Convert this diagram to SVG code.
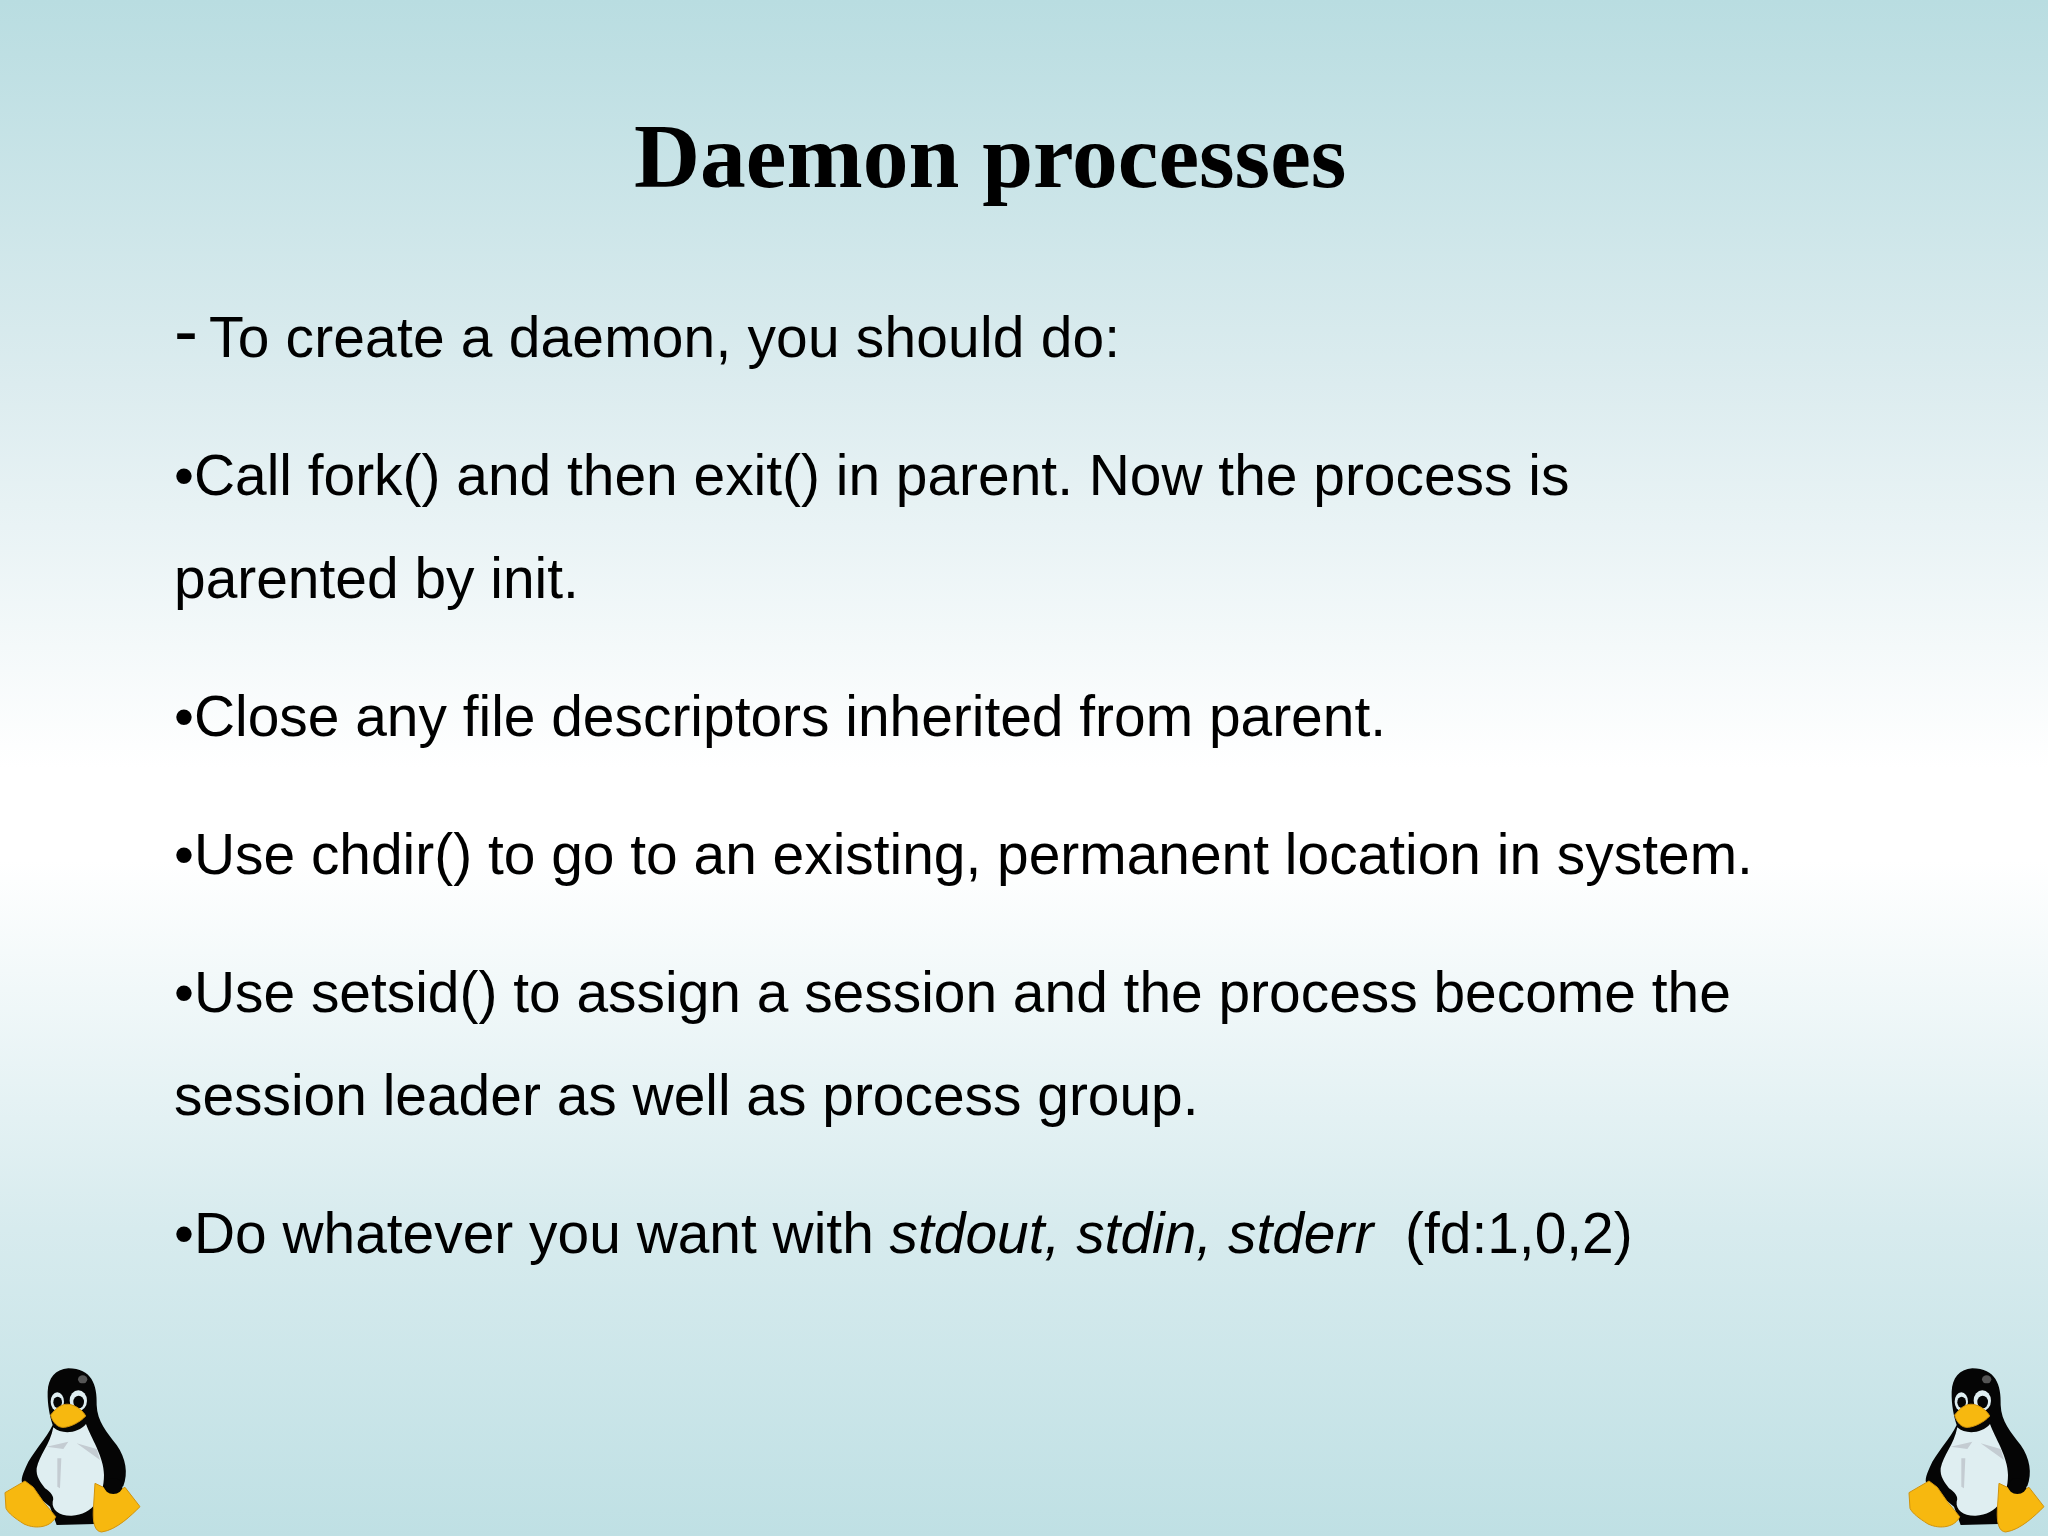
<svg xmlns="http://www.w3.org/2000/svg" width="2048" height="1536" viewBox="0 0 2048 1536">
<style>
.t{font-family:"Liberation Serif",serif;font-weight:700;font-size:91.5px;fill:#000}
.b{font-family:"Liberation Sans",sans-serif;font-size:56.9px;fill:#000}
.k{fill:#050505}.y{fill:#f7b80f;stroke:#d1930c;stroke-width:3;stroke-linejoin:round}.w{fill:#dfeef1}.s{fill:#c4ccd2}
</style>
<defs>
<linearGradient id="bg" x1="0" y1="0" x2="0" y2="1">
<stop offset="0" stop-color="#b9dde1"/><stop offset=".25" stop-color="#dcecef"/><stop offset=".5" stop-color="#ffffff"/><stop offset=".56" stop-color="#ffffff"/><stop offset=".8" stop-color="#d7ebee"/><stop offset="1" stop-color="#bfe0e4"/>
</linearGradient>
<g id="tux">
<path class="k" d="M205 55C165 58 145 85 143 125C142 165 150 200 158 225C140 265 95 310 78 350C65 380 60 395 72 405L150 470L170 525L285 522L315 435L370 408C385 370 378 325 350 285C320 245 292 215 290 165C292 105 275 55 205 55Z"/>
<path class="w" d="M160 232C185 255 235 250 258 222C272 262 312 320 312 375C312 440 280 495 215 497C178 498 155 480 158 455C165 440 150 425 135 415C120 395 108 380 110 355C118 315 150 285 160 232Z"/>
<path class="s" d="M140 290L205 275L190 297ZM230 280L290 297L300 330ZM172 325L184 325L180 415L172 410Z"/>
<ellipse class="w" cx="172" cy="155" rx="20" ry="28"/><ellipse class="w" cx="235" cy="152" rx="26" ry="31"/>
<ellipse class="k" cx="173" cy="157" rx="13" ry="17"/><ellipse class="k" cx="236" cy="156" rx="16" ry="19"/>
<path class="y" d="M152 195C168 175 185 160 207 163C228 166 250 183 257 198C240 218 205 234 185 232C168 229 156 212 152 195Z"/>
<path class="y" d="M15 428L75 393L100 412L130 455L167 500C155 530 110 540 72 522C45 505 25 490 18 475Z"/>
<path class="y" d="M285 400L310 412C325 432 352 425 375 412L420 470C395 495 350 540 305 546C285 545 278 520 280 480Z"/>
<ellipse class="k" cx="340" cy="408" rx="28" ry="24"/>
<ellipse cx="248" cy="88" rx="14" ry="12" fill="#555"/>
</g>
</defs>
<rect width="2048" height="1536" fill="url(#bg)"/>
<text class="t" x="634" y="187">Daemon processes</text>
<g class="b">
<text x="174" y="355" font-size="72">-</text>
<text x="209" y="357" letter-spacing=".2">To create a daemon, you should do:</text>
<text x="174" y="495">•Call fork() and then exit() in parent. Now the process is</text>
<text x="174" y="598">parented by init.</text>
<text x="174" y="736">•Close any file descriptors inherited from parent.</text>
<text x="174" y="874">•Use chdir() to go to an existing, permanent location in system.</text>
<text x="174" y="1012">•Use setsid() to assign a session and the process become the</text>
<text x="174" y="1115">session leader as well as process group.</text>
<text x="174" y="1253" xml:space="preserve">•Do whatever you want with <tspan font-style="italic">stdout, stdin, stderr</tspan>  (fd:1,0,2)</text>
</g>
<use href="#tux" transform="translate(0 1350) scale(.3333)"/>
<use href="#tux" transform="translate(1904 1350) scale(.3333)"/>
</svg>
